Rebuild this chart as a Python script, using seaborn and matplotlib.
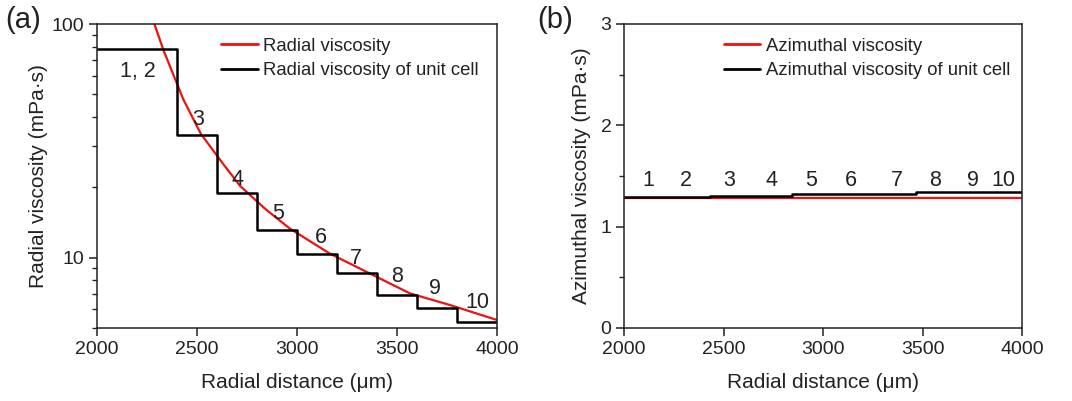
import numpy as np
import pandas as pd
import matplotlib
matplotlib.use("Agg")
import matplotlib.pyplot as plt
import matplotlib.ticker as mticker
import seaborn as sns

# ---- data (a): radial viscosity ----
radial_x = [2287, 2332, 2432, 2520, 2632, 2715, 2840, 2965, 3165, 3365, 3565, 3765, 4000]
radial_v = [100, 77.4, 47.5, 33.8, 25.1, 20.3, 16.2, 13.3, 10.4, 8.55, 7.03, 6.27, 5.41]
cell_edges_a = [2000, 2400, 2600, 2800, 3000, 3200, 3400, 3600, 3800, 4000]
cell_v_a = [78.3, 33.4, 18.9, 13.1, 10.4, 8.63, 6.9, 6.1, 5.3]
labels_a = ["1, 2", "3", "4", "5", "6", "7", "8", "9", "10"]
label_x_a = [2205, 2505, 2705, 2905, 3120, 3295, 3500, 3690, 3900]
label_y_a = [62.5, 39, 21.7, 15.4, 12.2, 9.9, 8.3, 7.4, 6.4]

# ---- data (b): azimuthal viscosity ----
azim_x = [2000, 4000]
azim_v = [1.285, 1.285]
cell_edges_b = [2000, 2430, 2845, 3465, 4000]
cell_v_b = [1.29, 1.305, 1.322, 1.34]
labels_b = ["1", "2", "3", "4", "5", "6", "7", "8", "9", "10"]
label_x_b = [2120, 2310, 2530, 2740, 2940, 3140, 3370, 3565, 3755, 3905]
label_y_b = [1.46] * 10

sns.set_theme(style="ticks")
plt.rcParams["font.family"] = ["Liberation Sans", "DejaVu Sans"]
TXT = "#222222"
plt.rcParams.update({
    "text.color": TXT, "axes.labelcolor": TXT,
    "xtick.color": TXT, "ytick.color": TXT,
    "axes.edgecolor": "#222222", "axes.linewidth": 1.1,
})

fig = plt.figure(figsize=(10.72, 4.01), dpi=100)
axA = fig.add_axes([97/1072, 1-328/401, 400/1072, 304/401])
axB = fig.add_axes([624/1072, 1-328/401, 398/1072, 304/401])

FS = 14
FS_LAB = 15
FS_NUM = 15.5

def steps(edges, vals):
    return pd.DataFrame({"x": edges, "y": list(vals) + [vals[-1]]})

# panel a
dfa = pd.DataFrame({"x": radial_x, "y": radial_v})
sns.lineplot(data=dfa, x="x", y="y", ax=axA, color="#ee1111", lw=1.6,
             label="Radial viscosity", sort=False)
sns.lineplot(data=steps(cell_edges_a, cell_v_a), x="x", y="y", ax=axA,
             color="black", lw=1.8, drawstyle="steps-post", sort=False,
             label="Radial viscosity of unit cell")
axA.set_yscale("log")
axA.set_xlim(2000, 4000)
axA.set_ylim(5, 100)
axA.set_xticks([2000, 2500, 3000, 3500, 4000])
axA.set_yticks([10, 100])
axA.yaxis.set_major_formatter(mticker.FixedFormatter(["10", "100"]))
axA.yaxis.set_minor_locator(mticker.FixedLocator([5, 6, 7, 8, 9, 20, 30, 40, 50, 60, 70, 80, 90]))
axA.yaxis.set_minor_formatter(mticker.NullFormatter())
for t, x, y in zip(labels_a, label_x_a, label_y_a):
    axA.text(x, y, t, fontsize=FS_NUM, ha="center", va="center", color=TXT)
axA.set_xlabel("Radial distance (μm)", fontsize=FS_LAB, labelpad=11)
axA.set_ylabel("Radial viscosity (mPa·s)", fontsize=FS_LAB, labelpad=3)

# panel b
dfb = pd.DataFrame({"x": azim_x, "y": azim_v})
sns.lineplot(data=dfb, x="x", y="y", ax=axB, color="#ee1111", lw=1.6,
             label="Azimuthal viscosity", sort=False)
sns.lineplot(data=steps(cell_edges_b, cell_v_b), x="x", y="y", ax=axB,
             color="black", lw=1.8, drawstyle="steps-post", sort=False,
             label="Azimuthal viscosity of unit cell")
axB.set_xlim(2000, 4000)
axB.set_ylim(0, 3)
axB.set_xticks([2000, 2500, 3000, 3500, 4000])
axB.set_yticks([0, 1, 2, 3])
axB.yaxis.set_minor_locator(mticker.FixedLocator([0.5, 1.5, 2.5]))
for t, x, y in zip(labels_b, label_x_b, label_y_b):
    axB.text(x, y, t, fontsize=FS_NUM, ha="center", va="center", color=TXT)
axB.set_xlabel("Radial distance (μm)", fontsize=FS_LAB, labelpad=11)
axB.set_ylabel("Azimuthal viscosity (mPa·s)", fontsize=FS_LAB, labelpad=7)

for ax in (axA, axB):
    for s in ax.spines.values():
        s.set_visible(True)
    ax.tick_params(axis="both", which="major", labelsize=FS, length=6, width=1.1,
                   direction="out", top=False, right=False, pad=3)
    ax.tick_params(axis="y", which="minor", length=3.5, width=1.0,
                   direction="out", right=False)
    ax.tick_params(axis="x", which="minor", bottom=False, top=False)

legA = axA.legend(loc="upper left", bbox_to_anchor=(0.31, 0.955), frameon=False,
                  fontsize=13.3, handlelength=2.0, handletextpad=0.3,
                  labelspacing=0.4, borderpad=0, borderaxespad=0)
legB = axB.legend(loc="upper left", bbox_to_anchor=(0.25, 0.955), frameon=False,
                  fontsize=13.3, handlelength=2.0, handletextpad=0.3,
                  labelspacing=0.4, borderpad=0, borderaxespad=0)
for leg in (legA, legB):
    for line in leg.get_lines():
        line.set_linewidth(2.0)

fig.text(5/1072, 1-20/401, "(a)", fontsize=21, ha="left", va="center", color=TXT)
fig.text(537/1072, 1-20/401, "(b)", fontsize=21, ha="left", va="center", color=TXT)

fig.savefig("out.png", dpi=100, facecolor="white")
